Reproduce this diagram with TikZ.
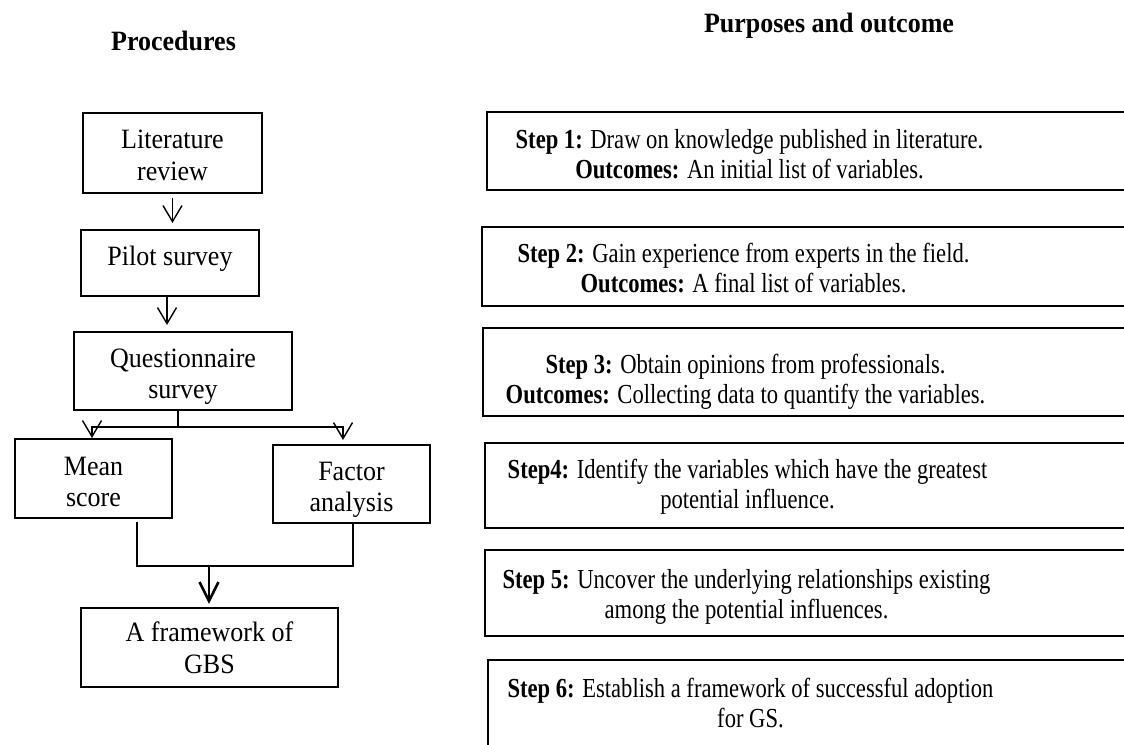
\documentclass[tikz,border=0pt]{standalone}
\usepackage{fontspec}
\setmainfont{Liberation Serif}
\newfontfamily\lfont[FakeStretch=0.929]{Liberation Serif}
\newfontfamily\rfont[FakeStretch=0.822]{Liberation Serif}
\usetikzlibrary{arrows.meta,calc}
\newcommand\mylines[1]{\begin{tabular}[t]{@{}c@{}}#1\end{tabular}}
\begin{document}
\begin{tikzpicture}[x=1pt,y=-1pt,
  lbox/.style={draw, line width=1.6pt, inner sep=0pt, text height=30pt,
    font=\lfont\fontsize{28}{31.7}\selectfont},
  rbox/.style={draw, line width=1.6pt, inner sep=0pt, text height=30pt,
    font=\rfont\fontsize{27.5}{30}\selectfont},
  heading/.style={anchor=base, inner sep=0pt, font=\lfont\bfseries\fontsize{28}{32}\selectfont},
  conn/.style={line width=1.5pt},
  arr/.style={line width=1.4pt, -{Straight Barb[length=16pt,width=19pt]}},
  thickarr/.style={line width=2.6pt, -{Straight Barb[length=19pt,width=19pt]}}
]
\useasboundingbox (0,0) rectangle (1124,744);
\clip (0,0) rectangle (1124,744);

% headings
\node[heading] (h1) at (173.5,50) {Procedures};
\node[heading] (h2) at (829,32) {Purposes and outcome};

% left procedure boxes
\node[lbox, minimum width=179.5pt, minimum height=80.5pt, text depth=39.4pt] (lit) at (172.5,153) {\mylines{Literature\\review}};
\node[lbox, minimum width=178.5pt, minimum height=66.5pt, text depth=24.6pt] (pilot) at (170,263) {\mylines{Pilot survey}};
\node[lbox, minimum width=218.5pt, minimum height=78.5pt, text depth=38pt] (qs) at (183,371) {\mylines{Questionnaire\\survey}};
\node[lbox, minimum width=157.5pt, minimum height=79.5pt, text depth=37pt] (mean) at (93.5,478.5) {\mylines{Mean\\score}};
\node[lbox, minimum width=157.5pt, minimum height=78.5pt, text depth=38pt] (factor) at (351.5,484) {\mylines{Factor\\analysis}};
\node[lbox, minimum width=257.5pt, minimum height=79.5pt, text depth=41.6pt] (frame) at (209.5,647.5) {\mylines{A framework of\\GBS}};

% right step boxes (text set left of the box centre; boxes run past the right edge)
\node[rbox, minimum width=643pt, minimum height=78.5pt, text depth=36pt] (s1) at (808.5,151)
  {\mylines{\textbf{Step 1:} Draw on knowledge published in literature.\\\textbf{Outcomes:} An initial list of variables.}\kern118pt};
\node[rbox, minimum width=648pt, minimum height=79.5pt, text depth=39pt] (s2) at (806,266.5)
  {\mylines{\textbf{Step 2:} Gain experience from experts in the field.\\\textbf{Outcomes:} A final list of variables.}\kern125pt};
\node[rbox, minimum width=647pt, minimum height=88.5pt, text depth=28pt] (s3) at (806.5,372)
  {\mylines{\textbf{Step 3:} Obtain opinions from professionals.\\\textbf{Outcomes:} Collecting data to quantify the variables.}\kern122pt};
\node[rbox, minimum width=645pt, minimum height=85.5pt, text depth=45pt] (s4) at (807.5,485.5)
  {\mylines{\textbf{Step4:} Identify the variables which have the greatest\\potential influence.}\kern120pt};
\node[rbox, minimum width=645pt, minimum height=86.5pt, text depth=40pt] (s5) at (807.5,593)
  {\mylines{\textbf{Step 5:} Uncover the underlying relationships existing\\among the potential influences.}\kern122pt};
\node[rbox, minimum width=642pt, minimum height=100pt, text depth=56pt] (s6) at (809,710)
  {\mylines{\textbf{Step 6:} Establish a framework of successful adoption\\for GS.}\kern117pt};

% connectors
\draw[arr] ($(lit.south)+(0,4)$) -- ($(lit.south |- pilot.north)+(0,-6)$);
\draw[arr] ($(pilot.south)+(-3,0)$) -- ($(pilot.south |- qs.north)+(-3,-6)$);

\coordinate (split) at ($(qs.south)+(-5,16)$);
\draw[conn] ($(qs.south)+(-5,0)$) -- (split);
\draw[arr] (split) -| ($(mean.north)+(-1.5,0)$);
\draw[arr] (split) -| ($(factor.north)+(-8.5,-4)$);

\coordinate (join) at ($(frame.north)+(-0.5,-41)$);
\draw[conn] ($(mean.south)+(43.5,3)$) |- (join);
\draw[conn] ($(factor.south)+(1.5,0)$) |- (join);
\draw[thickarr] (join) -- ($(frame.north)+(-0.5,-3)$);
\end{tikzpicture}
\end{document}
